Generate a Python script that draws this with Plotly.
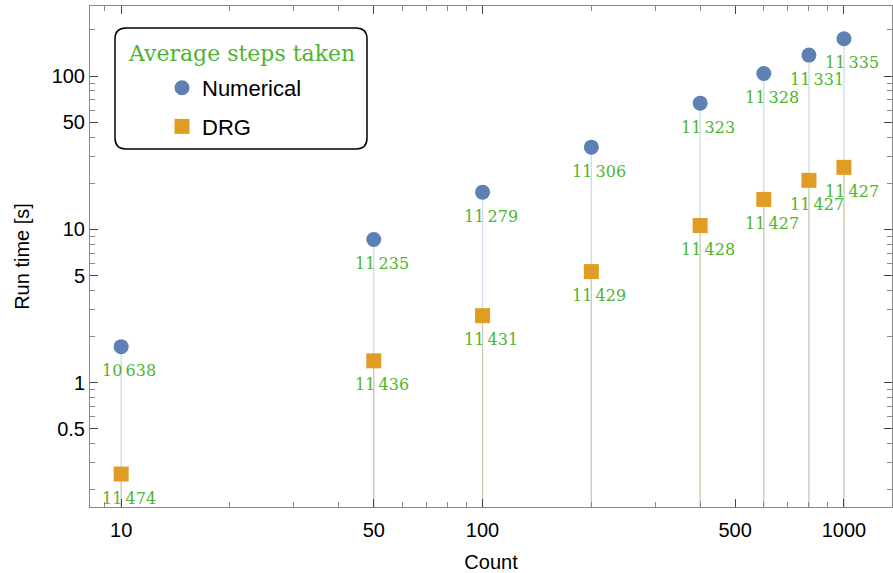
import numpy as np
import plotly.graph_objects as go

# ---- data ----
counts = [10, 50, 100, 200, 400, 600, 800, 1000]
numerical_time = [1.72, 8.6, 17.5, 34.4, 66.6, 104, 137, 175]
drg_time = [0.254, 1.39, 2.74, 5.31, 10.6, 15.7, 20.9, 25.4]
numerical_steps = [10638, 11235, 11279, 11306, 11323, 11328, 11331, 11335]
drg_steps = [11474, 11436, 11431, 11429, 11428, 11427, 11427, 11427]

x_major = [10, 50, 100, 500, 1000]
x_major_text = ["10", "50", "100", "500", "1000"]
x_minor = [9, 20, 30, 40, 60, 70, 80, 90, 200, 300, 400, 600, 700, 800, 900]
y_major = [0.5, 1, 5, 10, 50, 100]
y_major_text = ["0.5", "1", "5", "10", "50", "100"]
y_minor = [0.2, 0.3, 0.4, 0.6, 0.7, 0.8, 0.9, 2, 3, 4, 6, 7, 8, 9,
           20, 30, 40, 60, 70, 80, 90, 200]

BLUE = "#5E81B5"
ORANGE = "#E19C24"
GREEN = "#4DB52E"
LABEL_FONT = "DejaVu Serif"
SANS = "Liberation Sans"

W, H = 893, 573
ML, MR, MT, MB = 90, 1, 6, 66


def group(n):
    s = str(n)
    return s[:-3] + "\u2009" + s[-3:]


def stems(xs, ys, floor=1e-4):
    sx, sy = [], []
    for x, y in zip(xs, ys):
        sx += [x, x, None]
        sy += [floor, y, None]
    return sx, sy


fig = go.Figure()

sx, sy = stems(counts, numerical_time)
fig.add_trace(go.Scatter(x=sx, y=sy, mode="lines", showlegend=False, hoverinfo="skip",
                         line=dict(color="rgba(94,129,181,0.3)", width=1.3)))
sx, sy = stems(counts, drg_time)
fig.add_trace(go.Scatter(x=sx, y=sy, mode="lines", showlegend=False, hoverinfo="skip",
                         line=dict(color="rgba(225,156,36,0.28)", width=1.3)))

fig.add_trace(go.Scatter(x=counts, y=numerical_time, mode="markers", name="Numerical",
                         legendgroup="a",
                         marker=dict(symbol="circle", size=15, color=BLUE)))
fig.add_trace(go.Scatter(x=counts, y=drg_time, mode="markers", name="DRG",
                         legendgroup="b",
                         marker=dict(symbol="square", size=15, color=ORANGE)))

for c, t, s in zip(counts, numerical_time, numerical_steps):
    fig.add_annotation(x=np.log10(c), y=np.log10(t), text=group(s), showarrow=False,
                       xshift=8, yshift=-24,
                       font=dict(family=LABEL_FONT, size=16, color=GREEN))
for c, t, s in zip(counts, drg_time, drg_steps):
    fig.add_annotation(x=np.log10(c), y=np.log10(t), text=group(s), showarrow=False,
                       xshift=8, yshift=-24,
                       font=dict(family=LABEL_FONT, size=16, color=GREEN))

# legend box (rounded) in paper coordinates
pw, ph = W - ML - MR, H - MT - MB


def px(xp):
    return (xp - ML) / pw


def py(yp):
    return (H - MB - yp) / ph


x0, x1, y0, y1, r = 115, 367, 28, 149, 11
path = (f"M {px(x0 + r)},{py(y0)} L {px(x1 - r)},{py(y0)} "
        f"Q {px(x1)},{py(y0)} {px(x1)},{py(y0 + r)} "
        f"L {px(x1)},{py(y1 - r)} Q {px(x1)},{py(y1)} {px(x1 - r)},{py(y1)} "
        f"L {px(x0 + r)},{py(y1)} Q {px(x0)},{py(y1)} {px(x0)},{py(y1 - r)} "
        f"L {px(x0)},{py(y0 + r)} Q {px(x0)},{py(y0)} {px(x0 + r)},{py(y0)} Z")
fig.add_shape(type="path", xref="paper", yref="paper", path=path,
              line=dict(color="black", width=1.5), fillcolor="white", layer="below")

fig.add_annotation(xref="paper", yref="paper", x=px(241), y=py(54), text="Average steps taken",
                   showarrow=False, xanchor="center", yanchor="middle",
                   font=dict(family=LABEL_FONT, size=22, color=GREEN))

axis_common = dict(type="log", showgrid=False, zeroline=False, showline=True,
                   linecolor="#888", linewidth=1, mirror="ticks", ticks="inside",
                   ticklen=8, tickcolor="#444", tickwidth=1, automargin=False,
                   tickfont=dict(family=SANS, size=20, color="black"))

fig.update_xaxes(**axis_common, range=[np.log10(8.2), np.log10(1358)],
                 tickmode="array", tickvals=x_major, ticktext=x_major_text,
                 ticklabelstandoff=5,
                 minor=dict(tickmode="array", tickvals=x_minor, ticks="inside",
                            ticklen=5, tickcolor="#888"),
                 title=dict(text="Count", font=dict(family=SANS, size=20, color="black"),
                            standoff=17))
fig.update_yaxes(**axis_common, range=[-0.81, 2.457],
                 tickmode="array", tickvals=y_major, ticktext=y_major_text,
                 minor=dict(tickmode="array", tickvals=y_minor, ticks="inside",
                            ticklen=5, tickcolor="#888"),
                 title=dict(text="Run time [s]", font=dict(family=SANS, size=20, color="black"),
                            standoff=16))

fig.update_layout(
    width=W, height=H, margin=dict(l=ML, r=MR, t=MT, b=MB),
    plot_bgcolor="white", paper_bgcolor="white",
    showlegend=True,
    legend=dict(x=px(162), y=py(67), xanchor="left", yanchor="top",
                bgcolor="rgba(0,0,0,0)", borderwidth=0, tracegroupgap=7,
                font=dict(family=SANS, size=22, color="black")),
)

fig.write_html(
    "out.html",
    config={"responsive": False, "displayModeBar": False},
    post_script="document.body.style.margin='0';document.body.style.overflow='hidden';",
)
